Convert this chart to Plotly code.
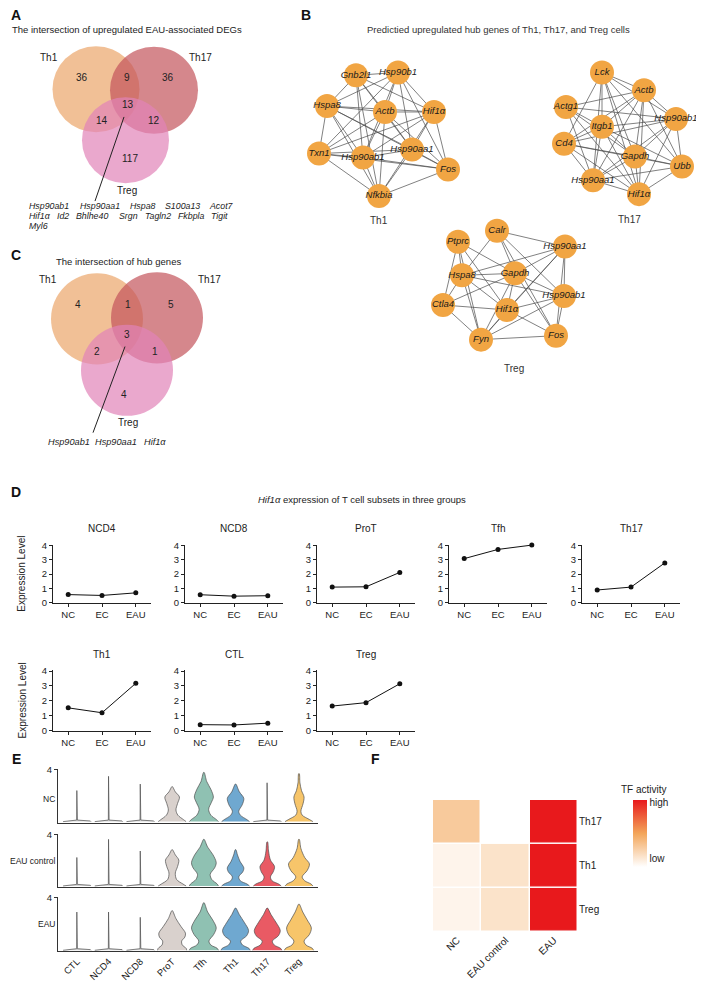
import plotly.graph_objects as go

# Screen geometry: the page body has an 8px default margin, so the figure is
# drawn 8px smaller and all layout coordinates below are given in window pixels.
WIN_W, WIN_H = 704, 988
PAGE_MARGIN = 8
W, H = WIN_W - PAGE_MARGIN, WIN_H - PAGE_MARGIN
FONT = "Liberation Sans, Arial, Helvetica, sans-serif"
NARROW = "Liberation Sans Narrow, Liberation Sans, Arial, sans-serif"
TXT = "#222222"

# ======================= DATA =======================
# Panel A: Venn of upregulated EAU-associated DEGs
vennA_sets = ["Th1", "Th17", "Treg"]
vennA_regions = ["Th1", "Th1&Th17", "Th17", "all", "Th1&Treg", "Th17&Treg", "Treg"]
vennA_counts = [36, 9, 36, 13, 14, 12, 117]
vennA_genes_row1 = ["Hsp90ab1", "Hsp90aa1", "Hspa8", "S100a13", "Acot7"]
vennA_genes_row2 = ["Hif1α", "Id2", "Bhlhe40", "Srgn", "Tagln2", "Fkbpla", "Tigit"]
vennA_genes_row3 = ["Myl6"]

# Panel C: Venn of hub genes
vennC_sets = ["Th1", "Th17", "Treg"]
vennC_regions = ["Th1", "Th1&Th17", "Th17", "all", "Th1&Treg", "Th17&Treg", "Treg"]
vennC_counts = [4, 1, 5, 3, 2, 1, 4]
vennC_genes = ["Hsp90ab1", "Hsp90aa1", "Hif1α"]

# Panel B: hub gene networks
th1_genes = ["Gnb2l1", "Hsp90b1", "Hspa8", "Actb", "Hif1α", "Txn1", "Hsp90ab1", "Hsp90aa1", "Fos", "Nfkbia"]
th1_edges = [
    ("Gnb2l1", "Hsp90b1"), ("Gnb2l1", "Hspa8"), ("Gnb2l1", "Actb"), ("Gnb2l1", "Hsp90ab1"),
    ("Gnb2l1", "Hsp90aa1"), ("Gnb2l1", "Nfkbia"), ("Gnb2l1", "Hif1α"),
    ("Hsp90b1", "Hif1α"), ("Hsp90b1", "Actb"), ("Hsp90b1", "Txn1"), ("Hsp90b1", "Hsp90ab1"),
    ("Hsp90b1", "Hsp90aa1"), ("Hsp90b1", "Fos"), ("Hsp90b1", "Hspa8"),
    ("Hspa8", "Actb"), ("Hspa8", "Hif1α"), ("Hspa8", "Txn1"), ("Hspa8", "Hsp90aa1"),
    ("Hspa8", "Nfkbia"), ("Hspa8", "Hsp90ab1"), ("Hspa8", "Fos"),
    ("Actb", "Hif1α"), ("Actb", "Txn1"), ("Actb", "Hsp90ab1"), ("Actb", "Hsp90aa1"),
    ("Actb", "Nfkbia"), ("Actb", "Fos"),
    ("Hif1α", "Txn1"), ("Hif1α", "Hsp90ab1"), ("Hif1α", "Hsp90aa1"), ("Hif1α", "Fos"), ("Hif1α", "Nfkbia"),
    ("Txn1", "Hsp90ab1"), ("Txn1", "Hsp90aa1"), ("Txn1", "Nfkbia"), ("Txn1", "Fos"),
    ("Hsp90ab1", "Hsp90aa1"), ("Hsp90ab1", "Nfkbia"), ("Hsp90ab1", "Fos"),
    ("Hsp90aa1", "Nfkbia"), ("Hsp90aa1", "Fos"), ("Fos", "Nfkbia"),
]
th17_genes = ["Lck", "Actb", "Actg1", "Hsp90ab1", "Itgb1", "Cd4", "Gapdh", "Ubb", "Hsp90aa1", "Hif1α"]
th17_edges = [
    ("Lck", "Actb"), ("Lck", "Itgb1"), ("Lck", "Hsp90ab1"), ("Lck", "Cd4"), ("Lck", "Gapdh"),
    ("Lck", "Hsp90aa1"), ("Lck", "Hif1α"), ("Lck", "Ubb"),
    ("Actb", "Actg1"), ("Actb", "Itgb1"), ("Actb", "Cd4"), ("Actb", "Hsp90ab1"), ("Actb", "Gapdh"),
    ("Actb", "Ubb"), ("Actb", "Hsp90aa1"), ("Actb", "Hif1α"),
    ("Actg1", "Hsp90ab1"), ("Actg1", "Itgb1"), ("Actg1", "Gapdh"), ("Actg1", "Hsp90aa1"), ("Actg1", "Hif1α"),
    ("Hsp90ab1", "Itgb1"), ("Hsp90ab1", "Cd4"), ("Hsp90ab1", "Gapdh"), ("Hsp90ab1", "Ubb"),
    ("Hsp90ab1", "Hsp90aa1"), ("Hsp90ab1", "Hif1α"),
    ("Itgb1", "Cd4"), ("Itgb1", "Gapdh"), ("Itgb1", "Hsp90aa1"), ("Itgb1", "Hif1α"), ("Itgb1", "Ubb"),
    ("Cd4", "Gapdh"), ("Cd4", "Hsp90aa1"), ("Cd4", "Hif1α"), ("Cd4", "Ubb"),
    ("Gapdh", "Ubb"), ("Gapdh", "Hsp90aa1"), ("Gapdh", "Hif1α"),
    ("Ubb", "Hsp90aa1"), ("Ubb", "Hif1α"), ("Hsp90aa1", "Hif1α"),
]
treg_genes = ["Calr", "Ptprc", "Hsp90aa1", "Hspa8", "Gapdh", "Hsp90ab1", "Ctla4", "Hif1α", "Fyn", "Fos"]
treg_edges = [
    ("Calr", "Hspa8"), ("Calr", "Hsp90aa1"), ("Calr", "Gapdh"), ("Calr", "Hsp90ab1"), ("Calr", "Fos"),
    ("Ptprc", "Hspa8"), ("Ptprc", "Gapdh"), ("Ptprc", "Ctla4"), ("Ptprc", "Hif1α"), ("Ptprc", "Fyn"),
    ("Hsp90aa1", "Hspa8"), ("Hsp90aa1", "Gapdh"), ("Hsp90aa1", "Hsp90ab1"), ("Hsp90aa1", "Fos"),
    ("Hsp90aa1", "Fyn"), ("Hsp90aa1", "Hif1α"),
    ("Hspa8", "Gapdh"), ("Hspa8", "Hsp90ab1"), ("Hspa8", "Ctla4"), ("Hspa8", "Hif1α"), ("Hspa8", "Fyn"),
    ("Gapdh", "Hsp90ab1"), ("Gapdh", "Ctla4"), ("Gapdh", "Hif1α"), ("Gapdh", "Fyn"), ("Gapdh", "Fos"),
    ("Hsp90ab1", "Hif1α"), ("Hsp90ab1", "Fyn"), ("Hsp90ab1", "Fos"),
    ("Ctla4", "Hif1α"), ("Ctla4", "Fyn"), ("Hif1α", "Fyn"), ("Hif1α", "Fos"), ("Fyn", "Fos"),
]

# Panel D: Hif1a expression level per subset (NC, EC, EAU)
hif1a_groups = ["NC", "EC", "EAU"]
hif1a_subsets = ["NCD4", "NCD8", "ProT", "Tfh", "Th17", "Th1", "CTL", "Treg"]
hif1a_NCD4 = [0.58, 0.52, 0.70]
hif1a_NCD8 = [0.57, 0.47, 0.50]
hif1a_ProT = [1.10, 1.12, 2.12]
hif1a_Tfh = [3.08, 3.72, 4.02]
hif1a_Th17 = [0.90, 1.10, 2.78]
hif1a_Th1 = [1.53, 1.20, 3.18]
hif1a_CTL = [0.40, 0.38, 0.50]
hif1a_Treg = [1.65, 1.88, 3.15]
hif1a_values = {"NCD4": hif1a_NCD4, "NCD8": hif1a_NCD8, "ProT": hif1a_ProT, "Tfh": hif1a_Tfh,
                "Th17": hif1a_Th17, "Th1": hif1a_Th1, "CTL": hif1a_CTL, "Treg": hif1a_Treg}

# Panel E: violin outlines (expression level, half-width in category units)
vln_celltypes = ["CTL", "NCD4", "NCD8", "ProT", "Tfh", "Th1", "Th17", "Treg"]
vln_conditions = ["NC", "EAU control", "EAU"]
vln_NC = {
    "CTL": ([0, 0.05, 0.12, 2.4], [0.44, 0.42, 0.012, 0.006]),
    "NCD4": ([0, 0.05, 0.12, 3.5], [0.44, 0.42, 0.012, 0.006]),
    "NCD8": ([0, 0.05, 0.12, 2.9], [0.44, 0.42, 0.012, 0.006]),
    "ProT": ([0, 0.15, 0.5, 0.9, 1.4, 1.9, 2.3, 2.7], [0.44, 0.36, 0.18, 0.12, 0.17, 0.23, 0.10, 0.01]),
    "Tfh": ([0, 0.15, 0.5, 0.95, 1.5, 1.9, 2.5, 3.1, 3.8], [0.46, 0.40, 0.22, 0.15, 0.24, 0.30, 0.22, 0.09, 0.01]),
    "Th1": ([0, 0.15, 0.5, 0.8, 1.3, 1.8, 2.3, 2.9], [0.44, 0.36, 0.15, 0.10, 0.21, 0.26, 0.12, 0.01]),
    "Th17": ([0, 0.05, 0.12, 3.0], [0.44, 0.42, 0.012, 0.006]),
    "Treg": ([0, 0.15, 0.5, 0.8, 1.4, 1.9, 2.4, 3.0, 3.7], [0.44, 0.34, 0.10, 0.06, 0.13, 0.16, 0.08, 0.03, 0.01]),
}
vln_EAUcontrol = {
    "CTL": ([0, 0.05, 0.12, 2.2], [0.44, 0.42, 0.012, 0.006]),
    "NCD4": ([0, 0.05, 0.12, 3.6], [0.44, 0.42, 0.012, 0.006]),
    "NCD8": ([0, 0.05, 0.12, 2.7], [0.44, 0.42, 0.012, 0.006]),
    "ProT": ([0, 0.15, 0.5, 1.0, 1.5, 2.0, 2.4, 2.8], [0.44, 0.34, 0.14, 0.10, 0.17, 0.21, 0.10, 0.01]),
    "Tfh": ([0, 0.15, 0.5, 0.9, 1.4, 1.8, 2.4, 3.0, 3.6], [0.46, 0.42, 0.25, 0.20, 0.34, 0.39, 0.29, 0.12, 0.01]),
    "Th1": ([0, 0.15, 0.4, 0.7, 1.1, 1.4, 1.9, 2.4, 2.8], [0.44, 0.36, 0.15, 0.10, 0.23, 0.26, 0.14, 0.06, 0.01]),
    "Th17": ([0, 0.15, 0.4, 0.7, 1.1, 1.5, 2.0, 2.7, 3.4], [0.44, 0.36, 0.15, 0.10, 0.19, 0.23, 0.10, 0.04, 0.01]),
    "Treg": ([0, 0.15, 0.4, 0.7, 1.2, 1.7, 2.2, 2.9, 3.6], [0.44, 0.38, 0.18, 0.10, 0.26, 0.33, 0.18, 0.06, 0.01]),
}
vln_EAU = {
    "CTL": ([0, 0.05, 0.12, 2.9], [0.44, 0.42, 0.012, 0.006]),
    "NCD4": ([0, 0.05, 0.12, 2.9], [0.44, 0.42, 0.012, 0.006]),
    "NCD8": ([0, 0.05, 0.12, 2.5], [0.44, 0.42, 0.012, 0.006]),
    "ProT": ([0, 0.15, 0.4, 0.7, 1.0, 1.3, 1.8, 2.4, 3.0], [0.46, 0.44, 0.32, 0.30, 0.40, 0.42, 0.28, 0.12, 0.01]),
    "Tfh": ([0, 0.15, 0.4, 0.7, 1.2, 1.7, 2.3, 2.9, 3.6], [0.46, 0.42, 0.22, 0.16, 0.31, 0.39, 0.28, 0.12, 0.01]),
    "Th1": ([0, 0.15, 0.4, 0.7, 1.1, 1.5, 2.1, 2.7, 3.2], [0.46, 0.42, 0.22, 0.16, 0.35, 0.41, 0.28, 0.12, 0.01]),
    "Th17": ([0, 0.15, 0.4, 0.7, 1.1, 1.5, 2.1, 2.7, 3.2], [0.46, 0.42, 0.22, 0.16, 0.35, 0.41, 0.28, 0.12, 0.01]),
    "Treg": ([0, 0.15, 0.4, 0.7, 1.2, 1.7, 2.3, 2.9, 3.5], [0.46, 0.42, 0.22, 0.16, 0.33, 0.39, 0.26, 0.12, 0.01]),
}
vln_by_condition = [vln_NC, vln_EAUcontrol, vln_EAU]

# Panel F: TF activity heatmap
tf_conditions = ["NC", "EAU control", "EAU"]
tf_celltypes = ["Th17", "Th1", "Treg"]
tf_activity = [
    [0.30, 0.00, 1.00],
    [0.06, 0.16, 1.00],
    [0.06, 0.16, 1.00],
]

# ======================= LAYOUT / STYLE (window pixels) =======================
venn_colors = {"Th1": "rgba(235,165,105,0.7)", "Th17": "rgba(195,84,91,0.7)", "Treg": "rgba(225,131,184,0.7)"}
vennA_geom = {"Th1": (96, 85, 43.5), "Th17": (154, 86, 44), "Treg": (125.5, 136.5, 43.5)}
vennA_setlabel_pos = {"Th1": (49, 53), "Th17": (200, 53), "Treg": (127, 187)}
vennA_region_pos = {"Th1": (82, 73), "Th1&Th17": (127, 73), "Th17": (168, 73), "all": (128, 100),
                    "Th1&Treg": (102, 117), "Th17&Treg": (154, 117), "Treg": (130, 155)}
vennA_genes_x = [[27, 78, 128, 163, 207], [27, 55, 74, 117, 143, 176, 209], [27]]
vennA_genes_y = [203, 213, 223]
vennA_pointer = ((124, 113), (95, 198))

vennC_geom = {"Th1": (97, 317, 46), "Th17": (157, 316, 46), "Treg": (127, 369, 46)}
vennC_setlabel_pos = {"Th1": (48, 277), "Th17": (209, 277), "Treg": (128, 422)}
vennC_region_pos = {"Th1": (78, 303), "Th1&Th17": (128, 303), "Th17": (171, 303), "all": (127, 333),
                    "Th1&Treg": (97, 350), "Th17&Treg": (155, 350), "Treg": (124, 393)}
vennC_genes_x = [46, 93, 142]
vennC_genes_y = 441
vennC_pointer = ((125, 345), (93, 432))

th1_pos = {"Gnb2l1": (356, 71), "Hsp90b1": (398, 68), "Hspa8": (327, 102), "Actb": (385, 108),
           "Hif1α": (434, 108), "Txn1": (319, 150), "Hsp90ab1": (363, 154), "Hsp90aa1": (412, 146),
           "Fos": (448, 166), "Nfkbia": (379, 193)}
th17_pos = {"Lck": (602, 68), "Actb": (644, 86), "Actg1": (566, 103), "Hsp90ab1": (676, 115),
            "Itgb1": (602, 123), "Cd4": (564, 140), "Gapdh": (635, 153), "Ubb": (682, 163),
            "Hsp90aa1": (593, 177), "Hif1α": (639, 191)}
treg_pos = {"Calr": (497, 228), "Ptprc": (458, 239), "Hsp90aa1": (565, 244), "Hspa8": (462, 273),
            "Gapdh": (515, 271), "Hsp90ab1": (564, 294), "Ctla4": (443, 303), "Hif1α": (507, 308),
            "Fyn": (481, 338), "Fos": (556, 334)}
net_label_pos = {"Th1": (379, 218), "Th17": (629, 217), "Treg": (514, 367)}
NODE_COLOR = "#F1A543"

fig = go.Figure()


def ann(text, x, y, size=10, xanchor="center", yanchor="middle", color=TXT, family=FONT, angle=0):
    fig.add_annotation(text=text, x=x, y=y, xref="x", yref="y", showarrow=False,
                       font=dict(size=size, color=color, family=family),
                       xanchor=xanchor, yanchor=yanchor, textangle=angle)


# --- panel letters & titles ---
for letter, (lx, ly) in {"A": (9, 10), "B": (299, 10), "C": (9, 252), "D": (9, 492),
                         "E": (10, 762), "F": (369, 762)}.items():
    ann(f"<b>{letter}</b>", lx, ly, size=14, xanchor="left", color="#111")
ann("The intersection of upregulated EAU-associated DEGs", 10, 25, size=9.5, xanchor="left")
ann("Predictied upregulated hub genes of Th1, Th17, and Treg cells", 498, 25, size=9.5, color="#333")
ann("The intersection of hub genes", 54, 259, size=9.5, xanchor="left")
ann("<i>Hif1α</i> expression of T cell subsets in three groups", 362, 500, size=9.5, family=NARROW)


# --- Venn diagrams ---
def draw_venn(sets, geom, counts, regions, region_pos, setlabel_pos, pointer):
    for s in sets:
        cx, cy, r = geom[s]
        fig.add_shape(type="circle", xref="x", yref="y", x0=cx - r, x1=cx + r, y0=cy - r, y1=cy + r,
                      fillcolor=venn_colors[s], line=dict(width=0), layer="below")
    for reg, c in zip(regions, counts):
        px, py = region_pos[reg]
        ann(str(c), px, py, size=10)
    for s in sets:
        px, py = setlabel_pos[s]
        ann(s, px, py, size=10)
    (x0, y0), (x1, y1) = pointer
    fig.add_shape(type="line", xref="x", yref="y", x0=x0, y0=y0, x1=x1, y1=y1,
                  line=dict(color="#222", width=1))


draw_venn(vennA_sets, vennA_geom, vennA_counts, vennA_regions, vennA_region_pos, vennA_setlabel_pos, vennA_pointer)
for row, xs, y in zip([vennA_genes_row1, vennA_genes_row2, vennA_genes_row3], vennA_genes_x, vennA_genes_y):
    for g, x in zip(row, xs):
        ann(f"<i>{g}</i>", x, y, size=8.8, xanchor="left")

draw_venn(vennC_sets, vennC_geom, vennC_counts, vennC_regions, vennC_region_pos, vennC_setlabel_pos, vennC_pointer)
for g, x in zip(vennC_genes, vennC_genes_x):
    ann(f"<i>{g}</i>", x, vennC_genes_y, size=9.2, xanchor="left")


# --- networks ---
def draw_network(genes, edges, pos, name):
    ex, ey = [], []
    for a, b in edges:
        ex += [pos[a][0], pos[b][0], None]
        ey += [pos[a][1], pos[b][1], None]
    fig.add_trace(go.Scatter(x=ex, y=ey, mode="lines", line=dict(color="#4a4a4a", width=0.7),
                             hoverinfo="skip", showlegend=False, xaxis="x", yaxis="y"))
    fig.add_trace(go.Scatter(x=[pos[g][0] for g in genes], y=[pos[g][1] for g in genes],
                             mode="markers+text", text=[f"<i>{g}</i>" for g in genes],
                             textposition="middle center",
                             textfont=dict(size=9.5, color="#1a1a1a", family=FONT),
                             marker=dict(size=24, color=NODE_COLOR, line=dict(width=0)),
                             showlegend=False, xaxis="x", yaxis="y", cliponaxis=False))
    lx, ly = net_label_pos[name]
    ann(name, lx, ly, size=10, color="#333")


draw_network(th1_genes, th1_edges, th1_pos, "Th1")
draw_network(th17_genes, th17_edges, th17_pos, "Th17")
draw_network(treg_genes, treg_edges, treg_pos, "Treg")

# canvas axis in window-pixel coordinates
fig.update_layout(
    xaxis=dict(domain=[0, 1], range=[PAGE_MARGIN, WIN_W], visible=False, fixedrange=True),
    yaxis=dict(domain=[0, 1], range=[WIN_H, PAGE_MARGIN], visible=False, fixedrange=True),
)


def xdom(a, b):
    return [(a - PAGE_MARGIN) / W, (b - PAGE_MARGIN) / W]


def ydom(top, bottom):
    return [1 - (bottom - PAGE_MARGIN) / H, 1 - (top - PAGE_MARGIN) / H]


# --- Panel D line plots ---
D_cols_x = [53, 185, 317, 449, 582]
D_w = 98
D_rows = [(545, 604, 529), (672, 733, 656)]
D_grid = {"NCD4": (0, 0), "NCD8": (0, 1), "ProT": (0, 2), "Tfh": (0, 3), "Th17": (0, 4),
          "Th1": (1, 0), "CTL": (1, 1), "Treg": (1, 2)}
axis_common = dict(showline=True, linecolor="#222", linewidth=1, ticks="outside", ticklen=3,
                   tickcolor="#222", showgrid=False, zeroline=False, fixedrange=True,
                   tickfont=dict(size=9.5, family=NARROW, color=TXT))
n = 2
for sub in hif1a_subsets:
    r, c = D_grid[sub]
    top, bot, ty = D_rows[r]
    x0 = D_cols_x[c]
    fig.update_layout(**{
        f"xaxis{n}": dict(domain=xdom(x0, x0 + D_w), anchor=f"y{n}", range=[-0.45, 2.45],
                          tickvals=[0, 1, 2], ticktext=hif1a_groups, **axis_common),
        f"yaxis{n}": dict(domain=ydom(top, bot), anchor=f"x{n}", range=[0, 4.06],
                          tickvals=[0, 1, 2, 3, 4], **axis_common),
    })
    fig.add_trace(go.Scatter(x=[0, 1, 2], y=hif1a_values[sub], mode="lines+markers",
                             line=dict(color="#111", width=1), marker=dict(size=5, color="#111"),
                             xaxis=f"x{n}", yaxis=f"y{n}", showlegend=False, cliponaxis=False))
    ann(sub, x0 + D_w / 2, ty, size=10, family=NARROW)
    if c == 0:
        ann("Expression Level", 22, (top + bot) / 2, size=10, family=FONT, angle=-90)
    n += 1

# --- Panel E violins ---
vln_colors = {"CTL": "#D5D5D5", "NCD4": "#D5D5D5", "NCD8": "#D5D5D5", "ProT": "#D9D1CD",
              "Tfh": "#8FC1B2", "Th1": "#6FA8D0", "Th17": "#E95A64", "Treg": "#F7C56A"}
THIN_COLOR = "#D5D5D5"
E_rows = [(772, 826, 802), (837, 891, 865), (901, 956, 928)]
E_x0, E_x1 = 58, 318
for k, cond in enumerate(vln_conditions):
    top, bot, ly = E_rows[k]
    xa, ya = f"x{n}", f"y{n}"
    last = k == len(vln_conditions) - 1
    fig.update_layout(**{
        f"xaxis{n}": dict(domain=xdom(E_x0, E_x1), anchor=ya, range=[-0.6, 7.6],
                          tickvals=list(range(len(vln_celltypes))), ticktext=vln_celltypes,
                          showticklabels=last, tickangle=-45, showline=True, linecolor="#333",
                          ticks="", showgrid=False, zeroline=False, fixedrange=True,
                          tickfont=dict(size=9.5, family=FONT, color=TXT)),
        f"yaxis{n}": dict(domain=ydom(top, bot), anchor=xa, range=[-0.08, 4.05], tickvals=[4],
                          showline=True, linecolor="#333", ticks="outside", ticklen=3, tickcolor="#333",
                          showgrid=False, zeroline=False, fixedrange=True,
                          tickfont=dict(size=9.5, family=FONT, color=TXT)),
    })
    for i, ct in enumerate(vln_celltypes):
        levels, hw = vln_by_condition[k][ct]
        xs = [i + w for w in hw] + [i - w for w in reversed(hw)]
        ys = list(levels) + list(reversed(levels))
        thin = len(levels) <= 4
        fig.add_trace(go.Scatter(x=xs, y=ys, mode="lines", fill="toself",
                                 fillcolor=THIN_COLOR if thin else vln_colors[ct],
                                 line=dict(color="#4d4d4d", width=0.7, shape="linear" if thin else "spline",
                                           smoothing=0.9),
                                 xaxis=xa, yaxis=ya, showlegend=False, hoverinfo="skip"))
    ann(cond, 57, ly, size=8.5, xanchor="right")
    n += 1

# --- Panel F heatmap ---
fig.add_trace(go.Heatmap(
    z=tf_activity, x=tf_conditions, y=tf_celltypes, zmin=0, zmax=1, xgap=1.5, ygap=1.5,
    colorscale=[[0, "#FFFFFF"], [0.5, "#F3A65A"], [1, "#E8191C"]],
    xaxis=f"x{n}", yaxis=f"y{n}", hoverinfo="skip",
    colorbar=dict(x=(633 - PAGE_MARGIN) / W, xanchor="left", y=1 - (803 - PAGE_MARGIN) / H, yanchor="top",
                  len=67, lenmode="pixels", thickness=14, thicknessmode="pixels", outlinewidth=0,
                  xpad=0, ypad=0, tickvals=[0.12, 0.955], ticktext=["low", "high"], ticks="",
                  tickfont=dict(size=10, family=FONT, color=TXT)),
))
fig.update_layout(**{
    f"xaxis{n}": dict(domain=xdom(433, 578), anchor=f"y{n}", tickangle=-45, showline=False, ticks="",
                      showgrid=False, zeroline=False, fixedrange=True,
                      tickfont=dict(size=10, family=FONT, color=TXT)),
    f"yaxis{n}": dict(domain=ydom(803, 936), anchor=f"x{n}", side="right", autorange="reversed",
                      showline=False, ticks="", showgrid=False, zeroline=False, fixedrange=True,
                      tickfont=dict(size=10, family=FONT, color=TXT)),
})
ann("TF activity", 619, 793, size=10, xanchor="left")

fig.update_layout(width=W, height=H, margin=dict(l=0, r=0, t=0, b=0),
                  paper_bgcolor="white", plot_bgcolor="rgba(0,0,0,0)",
                  font=dict(family=FONT, color=TXT), showlegend=False)

fig.write_html("out.html")
